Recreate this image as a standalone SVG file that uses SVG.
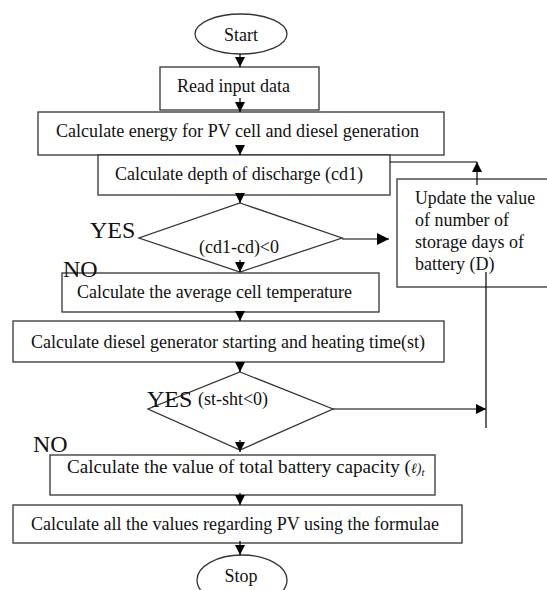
<svg xmlns="http://www.w3.org/2000/svg" width="547" height="590" viewBox="0 0 547 590" font-family="'Liberation Serif', 'Times New Roman', 'DejaVu Serif', serif">
<defs>
<marker id="ah" markerUnits="userSpaceOnUse" markerWidth="10" markerHeight="10" refX="10" refY="5" orient="auto"><path d="M0,0 L10,5 L0,10 z" fill="#000"/></marker>
<marker id="ahb" markerUnits="userSpaceOnUse" markerWidth="12" markerHeight="12" refX="12" refY="6" orient="auto"><path d="M0,0 L12,6 L0,12 z" fill="#000"/></marker>
<style>
.b{fill:#fff;stroke:#333;stroke-width:1.3}
text{font-family:'Liberation Serif','Times New Roman','DejaVu Serif',serif}
.t{font-size:18px;fill:#111}
.l{font-size:24px;fill:#111}
.c{fill:none;stroke:#000;stroke-width:1.2}
</style>
</defs>
<rect width="547" height="590" fill="#fff"/>
<g id="start"><ellipse class="b" cx="241" cy="34" rx="46" ry="20"/><text class="t" x="241" y="41" text-anchor="middle" font-size="17">Start</text></g>
<g id="read"><rect class="b" x="160" y="67" width="159" height="43"/><text class="t" x="177" y="92" textLength="113" lengthAdjust="spacingAndGlyphs">Read input data</text></g>
<g id="energy"><rect class="b" x="38" y="112" width="406" height="43"/><text class="t" x="56" y="137" textLength="363" lengthAdjust="spacingAndGlyphs">Calculate energy for PV cell and diesel generation</text></g>
<g id="depth"><rect class="b" x="98" y="155" width="292" height="40"/><text class="t" x="115" y="180" textLength="248" lengthAdjust="spacingAndGlyphs">Calculate depth of discharge (cd1)</text></g>
<g id="update"><rect class="b" x="397" y="179" width="160" height="108"/>
<text class="t" x="415" y="204" textLength="120" lengthAdjust="spacingAndGlyphs">Update the value</text>
<text class="t" x="415" y="226">of number of</text>
<text class="t" x="415" y="248">storage days of</text>
<text class="t" x="415" y="270">battery (D)</text></g>
<g id="dec1"><path class="b" d="M240,203 L342,238 L240,272 L139,238 Z"/><text class="t" x="199" y="253" textLength="80" lengthAdjust="spacingAndGlyphs">(cd1-cd)&lt;0</text><text class="l" x="90" y="238">YES</text></g>
<g id="avg"><rect class="b" x="62" y="273" width="317" height="39"/><text class="t" x="77" y="298" textLength="275" lengthAdjust="spacingAndGlyphs">Calculate the average cell temperature</text><text class="l" x="63" y="277">NO</text></g>
<g id="diesel"><rect class="b" x="13" y="321" width="431" height="41"/><text class="t" x="31" y="348" textLength="394" lengthAdjust="spacingAndGlyphs">Calculate diesel generator starting and heating time(st)</text></g>
<g id="dec2"><path class="b" d="M240,372 L333,409 L240,450 L148,409 Z"/><text class="t" x="198" y="405" textLength="70" lengthAdjust="spacingAndGlyphs" font-size="16">(st-sht&lt;0)</text><text class="l" x="147" y="407">YES</text><text class="l" x="33" y="452">NO</text></g>
<g id="battery"><rect class="b" x="50" y="455" width="385" height="40"/><text class="t" x="67" y="473" textLength="344" lengthAdjust="spacingAndGlyphs">Calculate the value of total battery capacity (</text><text class="t" x="411" y="473"><tspan font-style="italic" font-size="14">ℓ)</tspan><tspan font-style="italic" font-size="11" dy="3">t</tspan></text></g>
<g id="allvalues"><rect class="b" x="13" y="505" width="449" height="38"/><text class="t" x="31" y="530" textLength="408" lengthAdjust="spacingAndGlyphs">Calculate all the values regarding PV using the formulae</text></g>
<g id="stop"><ellipse class="b" cx="242" cy="580" rx="45" ry="25"/><text class="t" x="241" y="582" text-anchor="middle" font-size="17">Stop</text></g>
<g id="connectors">
<line class="c" x1="240" y1="54" x2="240" y2="67" marker-end="url(#ah)"/>
<line class="c" x1="240" y1="98" x2="240" y2="112" marker-end="url(#ah)"/>
<line class="c" x1="240" y1="145" x2="240" y2="155" marker-end="url(#ah)"/>
<line class="c" x1="240" y1="195" x2="240" y2="203" marker-end="url(#ah)"/>
<line class="c" x1="240" y1="260" x2="240" y2="272" marker-end="url(#ah)"/>
<line class="c" x1="240" y1="312" x2="240" y2="321" marker-end="url(#ah)"/>
<line class="c" x1="240" y1="362" x2="240" y2="372" marker-end="url(#ah)"/>
<line class="c" x1="240" y1="440" x2="240" y2="452" marker-end="url(#ah)"/>
<line class="c" x1="240" y1="493" x2="240" y2="505" marker-end="url(#ah)"/>
<line class="c" x1="240" y1="541" x2="240" y2="555" marker-end="url(#ah)"/>
<line class="c" x1="342" y1="239" x2="389" y2="239" stroke-width="2.2" marker-end="url(#ahb)"/>
<line class="c" x1="477" y1="185" x2="477" y2="162" marker-end="url(#ah)"/>
<line class="c" x1="477" y1="162" x2="390" y2="162"/>
<line class="c" x1="486" y1="272" x2="486" y2="428"/>
<line class="c" x1="333" y1="409" x2="486" y2="409" marker-end="url(#ah)"/>
</g>
</svg>
